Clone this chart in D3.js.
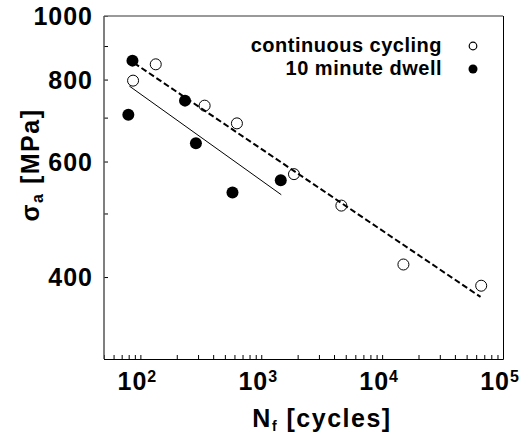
<!DOCTYPE html>
<html lang="en">
  <head>
    <meta charset="UTF-8" />
    <title>Fatigue life: continuous vs dwell</title>
    <script src="https://d3js.org/d3.v7.min.js"></script>
    <style>
      body {
        margin: 0;
        background: #fff;
      }
      svg text {
        font-family: "Liberation Sans", Arial, sans-serif;
        font-weight: bold;
        fill: #000;
      }
    </style>
  </head>
  <body>
    <script>
      // continuous cycling (open circles)
      const contCycles = [87, 134, 340, 629, 1865, 4600, 15000, 66000];
      const contStress = [797, 844, 730, 686, 574, 514, 418, 388];

      // 10 minute dwell (filled circles)
      const dwellCycles = [86, 79.5, 234, 288, 578, 1450];
      const dwellStress = [855, 707, 743, 640, 538, 562];

      // fitted lines, end points
      const contFitCycles = [88.6, 65200];
      const contFitStress = [848, 373];
      const dwellFitCycles = [81, 1464];
      const dwellFitStress = [782, 534];

      const xMajor = [100, 1000, 10000, 100000];
      const xExp = ["2", "3", "4", "5"];
      const yLabels = [1000, 800, 600, 400];
      const yMinor = [900, 700, 500, 300];
      const legendNames = ["continuous cycling", "10 minute dwell"];

      const width = 525,
        height = 442;
      const margin = { top: 16, right: 22, bottom: 83, left: 104 };
      const x0 = margin.left,
        x1 = width - margin.right,
        y0 = margin.top,
        y1 = height - margin.bottom;

      const svg = d3
        .select("body")
        .append("svg")
        .attr("width", width)
        .attr("height", height);

      const x = d3.scaleLog().domain([50, 100000]).range([x0, x1]);
      const y = d3.scaleLog().domain([300, 1000]).range([y1, y0]);

      // minor ticks for x: every integer multiple in each decade
      const xTicks = [];
      for (let e = 1; e <= 4; e++) {
        for (let m = 1; m <= 9; m++) {
          const v = m * Math.pow(10, e);
          if (v >= 50 && v <= 100000) xTicks.push(v);
        }
      }
      xTicks.push(100000);

      // x axis ticks (inward)
      svg
        .append("g")
        .attr("transform", `translate(0,${y1})`)
        .call(
          d3
            .axisBottom(x)
            .tickValues(xTicks)
            .tickSize(-4)
            .tickFormat("")
        )
        .call((g) => g.select(".domain").remove())
        .call((g) => g.selectAll("line").attr("stroke", "#000"));

      // y axis ticks (inward)
      svg
        .append("g")
        .attr("transform", `translate(${x0},0)`)
        .call(
          d3
            .axisLeft(y)
            .tickValues(yLabels.concat(yMinor))
            .tickSize(-4)
            .tickFormat("")
        )
        .call((g) => g.select(".domain").remove())
        .call((g) => g.selectAll("line").attr("stroke", "#000"));

      // frame
      svg.append("line").attr("x1", x0).attr("x2", x1).attr("y1", y0).attr("y2", y0)
        .attr("stroke", "#777").attr("stroke-width", 1.5);
      svg.append("line").attr("x1", x0).attr("x2", x0).attr("y1", y0).attr("y2", y1)
        .attr("stroke", "#555").attr("stroke-width", 1.5);
      svg.append("line").attr("x1", x0).attr("x2", x1 + 0.5).attr("y1", y1 + 0.5).attr("y2", y1 + 0.5)
        .attr("stroke", "#000");
      svg.append("line").attr("x1", x1 + 0.5).attr("x2", x1 + 0.5).attr("y1", y0).attr("y2", y1 + 0.5)
        .attr("stroke", "#000");

      // y tick labels
      svg
        .selectAll(".ylab")
        .data(yLabels)
        .enter()
        .append("text")
        .attr("class", "ylab")
        .attr("x", 93)
        .attr("y", (d) => y(d) + 9)
        .attr("text-anchor", "end")
        .style("font-size", "25px")
        .style("letter-spacing", "1px")
        .text((d) => d);

      // x tick labels 10^n
      const xl = svg
        .selectAll(".xlab")
        .data(xMajor)
        .enter()
        .append("text")
        .attr("class", "xlab")
        .attr("x", (d) => x(d) - 3)
        .attr("y", 390)
        .attr("text-anchor", "middle")
        .style("font-size", "25px")
        .style("letter-spacing", "1px");
      xl.append("tspan").text("10");
      xl.append("tspan")
        .attr("dy", -8)
        .style("font-size", "16px")
        .text((d, i) => xExp[i]);

      // axis titles
      const xt = svg
        .append("text")
        .attr("x", 322)
        .attr("y", 427)
        .attr("text-anchor", "middle")
        .style("font-size", "25px")
        .style("letter-spacing", "1.5px");
      xt.append("tspan").text("N");
      xt.append("tspan").attr("dy", 4).style("font-size", "14px").text("f");
      xt.append("tspan").attr("dy", -4).text(" [cycles]");

      const yt = svg
        .append("text")
        .attr("transform", "translate(39,165) rotate(-90)")
        .attr("text-anchor", "middle")
        .style("font-size", "25px")
        .style("letter-spacing", "1.5px");
      yt.append("tspan").text("σ");
      yt.append("tspan").attr("dy", 4).style("font-size", "16px").text("a");
      yt.append("tspan").attr("dy", -4).text(" [MPa]");

      // fit lines
      const line = d3
        .line()
        .x((d) => x(d[0]))
        .y((d) => y(d[1]));

      svg
        .append("path")
        .datum(d3.zip(contFitCycles, contFitStress))
        .attr("d", line)
        .attr("fill", "none")
        .attr("stroke", "#000")
        .attr("stroke-width", 2)
        .attr("stroke-dasharray", "6,3");

      svg
        .append("path")
        .datum(d3.zip(dwellFitCycles, dwellFitStress))
        .attr("d", line)
        .attr("fill", "none")
        .attr("stroke", "#000")
        .attr("stroke-width", 1);

      // points
      svg
        .selectAll(".cont")
        .data(d3.zip(contCycles, contStress))
        .enter()
        .append("circle")
        .attr("class", "cont")
        .attr("cx", (d) => x(d[0]))
        .attr("cy", (d) => y(d[1]))
        .attr("r", 5.5)
        .attr("fill", "none")
        .attr("stroke", "#000")
        .attr("stroke-width", 1);

      svg
        .selectAll(".dwell")
        .data(d3.zip(dwellCycles, dwellStress))
        .enter()
        .append("circle")
        .attr("class", "dwell")
        .attr("cx", (d) => x(d[0]))
        .attr("cy", (d) => y(d[1]))
        .attr("r", 6)
        .attr("fill", "#000");

      // legend
      const leg = svg
        .selectAll(".leg")
        .data(legendNames)
        .enter()
        .append("g")
        .attr("class", "leg")
        .attr("transform", (d, i) => `translate(0,${52 + i * 23})`);

      leg
        .append("text")
        .attr("x", 442)
        .attr("y", 0)
        .attr("text-anchor", "end")
        .style("font-size", "20px")
        .style("letter-spacing", "0.5px")
        .text((d) => d);

      leg
        .append("circle")
        .attr("cx", 473)
        .attr("cy", -6)
        .attr("r", (d, i) => (i === 0 ? 3.8 : 4.5))
        .attr("fill", (d, i) => (i === 0 ? "none" : "#000"))
        .attr("stroke", "#000")
        .attr("stroke-width", (d, i) => (i === 0 ? 1.2 : 0));
    </script>
  </body>
</html>
